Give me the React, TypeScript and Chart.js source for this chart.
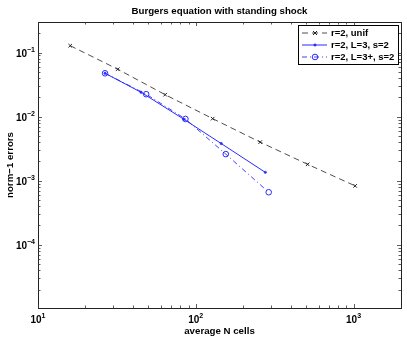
import React, { useEffect, useRef } from "react";
import { Chart, registerables } from "chart.js";

Chart.register(...registerables);

const unifN = [16, 32, 64, 128, 256, 512, 1024];
const unifErr = [0.128, 0.055, 0.022, 0.0093, 0.0040, 0.0018, 0.00083];
const l3N = [26.6, 45, 84, 145, 276];
const l3Err = [0.0475, 0.024, 0.0091, 0.0038, 0.00135];
const l3pN = [26.6, 48.5, 86, 155, 290];
const l3pErr = [0.0475, 0.0224, 0.0092, 0.0026, 0.00066];

const seriesLabels = ["r=2, unif", "r=2, L=3, s=2", "r=2, L=3+, s=2"];
const titleText = "Burgers equation with standing shock";
const xLabel = "average N cells";
const yLabel = "norm\u22121 errors";
const xDecades = [1, 2, 3];
const yDecades = [-4, -3, -2, -1];

const FONT = "'Liberation Sans', Arial, Helvetica, sans-serif";

const toPts = (xs: number[], ys: number[]) => xs.map((x, i) => ({ x, y: ys[i] }));

function drawMarker(ctx: CanvasRenderingContext2D, ds: any, x: number, y: number) {
  const r = ds.pointRadius;
  ctx.save();
  ctx.setLineDash([]);
  ctx.strokeStyle = ds.pointBorderColor;
  ctx.lineWidth = ds.pointBorderWidth;
  ctx.beginPath();
  if (ds.pointStyle === "crossRot") {
    ctx.moveTo(x - r * 0.8, y - r * 0.8); ctx.lineTo(x + r * 0.8, y + r * 0.8);
    ctx.moveTo(x - r * 0.8, y + r * 0.8); ctx.lineTo(x + r * 0.8, y - r * 0.8);
    ctx.stroke();
  } else {
    ctx.arc(x, y, r, 0, Math.PI * 2);
    if (ds.pointBackgroundColor !== "rgba(0,0,0,0)") {
      ctx.fillStyle = ds.pointBackgroundColor;
      ctx.fill();
    }
    ctx.stroke();
  }
  ctx.restore();
}

export default function App() {
  const ref = useRef<HTMLCanvasElement>(null);
  useEffect(() => {
    const canvas = ref.current!;
    const drawPlugin = {
      id: "matlabDecor",
      afterDraw(chart: any) {
        const ctx: CanvasRenderingContext2D = chart.ctx;
        const a = chart.chartArea;
        const xs = chart.scales.x;
        const ys = chart.scales.y;
        ctx.save();
        ctx.strokeStyle = "#222";
        ctx.lineWidth = 1;
        ctx.strokeRect(Math.round(a.left) + 0.5, Math.round(a.top) + 0.5, Math.round(a.right - a.left), Math.round(a.bottom - a.top));
        ctx.lineWidth = 0.8;
        ctx.strokeStyle = "#333";
        ctx.beginPath();
        for (let d = 0; d <= 4; d++) {
          for (let m = 1; m <= 9; m++) {
            const v = m * Math.pow(10, d);
            if (v < xs.min || v > xs.max) continue;
            const px = Math.round(xs.getPixelForValue(v)) + 0.5;
            const len = m === 1 ? 4 : 2.5;
            ctx.moveTo(px, a.bottom); ctx.lineTo(px, a.bottom - len);
            ctx.moveTo(px, a.top); ctx.lineTo(px, a.top + len);
          }
        }
        for (let d = -6; d <= 0; d++) {
          for (let m = 1; m <= 9; m++) {
            const v = m * Math.pow(10, d);
            if (v < ys.min || v > ys.max) continue;
            const py = Math.round(ys.getPixelForValue(v)) + 0.5;
            const len = m === 1 ? 4 : 2.5;
            ctx.moveTo(a.left, py); ctx.lineTo(a.left + len, py);
            ctx.moveTo(a.right, py); ctx.lineTo(a.right - len, py);
          }
        }
        ctx.stroke();
        ctx.fillStyle = "#000";
        ctx.textBaseline = "alphabetic";
        for (const d of xDecades) {
          const px = xs.getPixelForValue(Math.pow(10, d));
          ctx.font = `bold 10px ${FONT}`;
          const w1 = ctx.measureText("10").width;
          ctx.font = `bold 7px ${FONT}`;
          const e = String(d);
          const w2 = ctx.measureText(e).width;
          const x0 = px - (w1 + w2) / 2;
          ctx.font = `bold 10px ${FONT}`;
          ctx.textAlign = "left";
          ctx.fillText("10", x0, a.bottom + 15);
          ctx.font = `bold 7px ${FONT}`;
          ctx.fillText(e, x0 + w1, a.bottom + 10);
        }
        for (const d of yDecades) {
          const py = ys.getPixelForValue(Math.pow(10, d));
          const e = d < 0 ? "\u2212" + String(-d) : String(d);
          ctx.font = `bold 7px ${FONT}`;
          const w2 = ctx.measureText(e).width;
          ctx.font = `bold 10px ${FONT}`;
          const w1 = ctx.measureText("10").width;
          const xEnd = a.left - 3;
          ctx.textAlign = "left";
          ctx.fillText("10", xEnd - w2 - w1, py + 4);
          ctx.font = `bold 7px ${FONT}`;
          ctx.fillText(e, xEnd - w2, py - 1);
        }
        ctx.textAlign = "center";
        ctx.font = `bold 9.7px ${FONT}`;
        ctx.textBaseline = "middle";
        ctx.fillText(titleText, (a.left + a.right) / 2, 11);
        ctx.fillText(xLabel, (a.left + a.right) / 2, 331);
        ctx.save();
        ctx.translate(10, (a.top + a.bottom) / 2);
        ctx.rotate(-Math.PI / 2);
        ctx.fillText(yLabel, 0, 0);
        ctx.restore();
        const lx = 298, ly = 25, lw = 100, lh = 39;
        ctx.fillStyle = "#fff";
        ctx.fillRect(lx, ly, lw, lh);
        ctx.strokeStyle = "#000";
        ctx.lineWidth = 1;
        ctx.strokeRect(lx + 0.5, ly + 0.5, lw, lh);
        const dsets = chart.data.datasets;
        for (let i = 0; i < dsets.length; i++) {
          const ds = dsets[i];
          const ry = ly + 8 + i * 12;
          ctx.save();
          ctx.strokeStyle = ds.borderColor;
          ctx.lineWidth = ds.borderWidth;
          ctx.setLineDash(ds.borderDash || []);
          ctx.beginPath();
          ctx.moveTo(lx + 4, ry);
          ctx.lineTo(lx + 29, ry);
          ctx.stroke();
          ctx.restore();
          drawMarker(ctx, ds, lx + 17, ry);
          ctx.fillStyle = "#000";
          ctx.textAlign = "left";
          ctx.textBaseline = "middle";
          ctx.font = `bold 9.5px ${FONT}`;
          ctx.fillText(seriesLabels[i], lx + 33, ry + 0.5);
        }
        ctx.restore();
      },
    };

    const chart = new Chart(canvas, {
      type: "scatter",
      data: {
        datasets: [
          {
            label: seriesLabels[0],
            data: toPts(unifN, unifErr),
            showLine: true,
            borderColor: "#222",
            borderWidth: 0.8,
            borderDash: [6, 4],
            pointStyle: "crossRot",
            pointRadius: 2.5,
            pointBorderColor: "#222",
            pointBorderWidth: 1,
            pointBackgroundColor: "rgba(0,0,0,0)",
          },
          {
            label: seriesLabels[1],
            data: toPts(l3N, l3Err),
            showLine: true,
            borderColor: "#2a2aff",
            borderWidth: 1,
            pointStyle: "circle",
            pointRadius: 1.2,
            pointBorderColor: "#2a2aff",
            pointBorderWidth: 0.5,
            pointBackgroundColor: "#2a2aff",
          },
          {
            label: seriesLabels[2],
            data: toPts(l3pN, l3pErr),
            showLine: true,
            borderColor: "#2a2aff",
            borderWidth: 0.9,
            borderDash: [5, 3, 1, 3],
            pointStyle: "circle",
            pointRadius: 2.8,
            pointBorderColor: "#2a2aff",
            pointBorderWidth: 1,
            pointBackgroundColor: "rgba(0,0,0,0)",
          },
        ],
      },
      options: {
        responsive: false,
        animation: false,
        layout: { padding: { left: 38, right: 6, top: 22, bottom: 30 } },
        plugins: { legend: { display: false }, title: { display: false }, tooltip: { enabled: false } },
        scales: {
          x: { type: "logarithmic", min: 10, max: 2000, display: false },
          y: { type: "logarithmic", min: 1.03e-5, max: 0.3, display: false },
        },
      },
      plugins: [drawPlugin],
    } as any);
    return () => chart.destroy();
  }, []);
  return (
    <div style={{ position: "fixed", left: 0, top: 0, width: 407, height: 338, background: "#fff" }}>
      <canvas ref={ref} width={407} height={338} style={{ width: 407, height: 338 }} />
    </div>
  );
}
